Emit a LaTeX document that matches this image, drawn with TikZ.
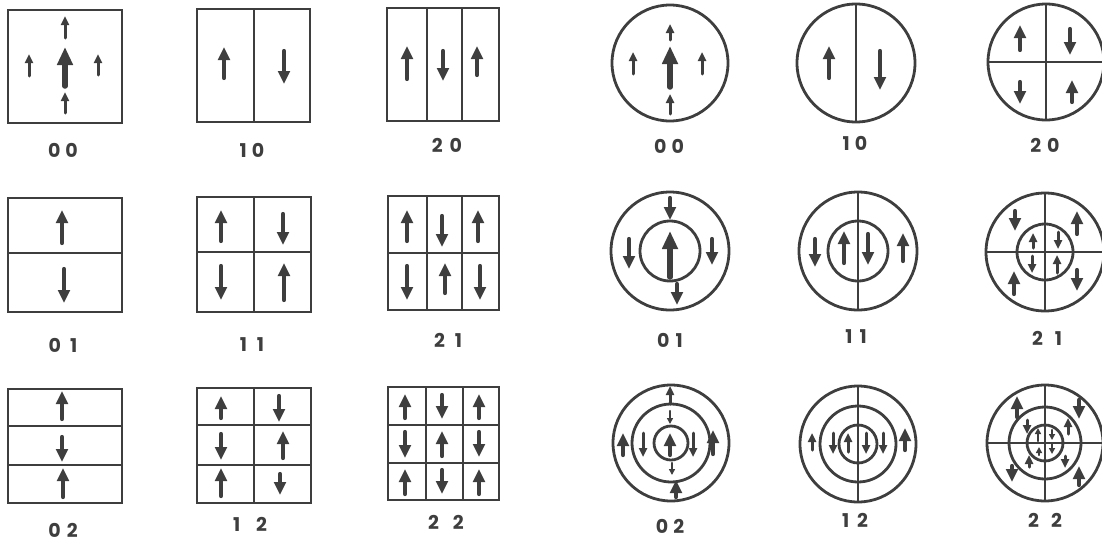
\documentclass[tikz,border=0pt]{standalone}
\usepackage{fontspec}
\setmainfont{Poppins}
\usetikzlibrary{arrows.meta}
\definecolor{ink}{RGB}{62,62,62}
\tikzset{
  frame/.style={draw=ink, line width=2.8pt},
  spin/.style={draw=ink, line width=4.2pt, line cap=round, -{Triangle[length=13pt,width=11.5pt]}},
  spinbig/.style={line width=5.5pt, -{Triangle[length=18pt,width=15pt]}},
  spinsmall/.style={line width=3pt, -{Triangle[length=9pt,width=8pt]}},
  spintiny/.style={line width=2.2pt, -{Triangle[length=6pt,width=6pt]}},
  lab/.style={text=ink, font=\fontsize{19}{19}\selectfont\bfseries, inner sep=0pt}
}
% vertical spin arrow: x, tail y, tip y
\newcommand\spinat[4][]{\draw[spin,#1] (#2,#3) -- (#2,#4);}
\begin{document}
\begin{tikzpicture}[x=1pt,y=-1pt]
\useasboundingbox (0,0) rectangle (1102,544);
\clip (0,0) rectangle (1102,544);

% ---------- rectangular guide, row 1 ----------
\draw[frame] (8,10) rectangle (122,123);
\spinat[spinbig]{65}{86}{47}
\spinat[spinsmall]{65}{38}{16}
\spinat[spinsmall]{65}{113}{92}
\spinat[spinsmall]{29}{76}{54}
\spinat[spinsmall]{98}{75}{54}
\node[lab] (s00) at (63,150) {0\hspace{5pt}0};

\draw[frame] (197,9) rectangle (310,122);
\draw[frame] (254,9) -- (254,122);
\spinat{224}{78}{47}
\spinat{284}{51}{84}
\node[lab] (s10) at (252,150) {1\hspace{5pt}0};

\draw[frame] (387,8) rectangle (499,121);
\draw[frame] (427,8) -- (427,121);
\draw[frame] (462,8) -- (462,121);
\spinat{407}{79}{46}
\spinat{443}{51}{81}
\spinat{477}{75}{46}
\node[lab] (s20) at (447,145) {2\hspace{7pt}0};

% ---------- rectangular guide, row 2 ----------
\draw[frame] (8,198) rectangle (122,312);
\draw[frame] (8,253) -- (122,253);
\spinat{62}{243}{210}
\spinat{64}{269}{303}
\node[lab] (s01) at (63,345) {0\hspace{9pt}1};

\draw[frame] (197,197) rectangle (311,312);
\draw[frame] (254,197) -- (254,312);
\draw[frame] (197,252) -- (311,252);
\spinat{221}{241}{210}
\spinat{283}{214}{245}
\spinat{221}{266}{300}
\spinat{284}{300}{263}
\node[lab] (s11) at (252,345) {1\hspace{10pt}1};

\draw[frame] (388,196) rectangle (499,310);
\draw[frame] (427,196) -- (427,310);
\draw[frame] (462,196) -- (462,310);
\draw[frame] (388,253) -- (499,253);
\spinat{407}{241}{210}
\spinat{442}{216}{247}
\spinat{478}{241}{210}
\spinat{407}{266}{300}
\spinat{445}{293}{263}
\spinat{480}{266}{300}
\node[lab] (s21) at (448,340) {2\hspace{10pt}1};

% ---------- rectangular guide, row 3 ----------
\draw[frame] (8,389) rectangle (122,503);
\draw[frame] (8,426) -- (122,426);
\draw[frame] (8,465) -- (122,465);
\spinat{62}{419}{391}
\spinat{62}{437}{462}
\spinat{63}{497}{468}
\node[lab] (s02) at (63,530) {0\hspace{6pt}2};

\draw[frame] (197,388) rectangle (311,503);
\draw[frame] (254,388) -- (254,503);
\draw[frame] (197,425) -- (311,425);
\draw[frame] (197,465) -- (311,465);
\spinat{221}{418}{396}
\spinat{279}{396}{422}
\spinat{221}{434}{460}
\spinat{283}{458}{431}
\spinat{221}{496}{468}
\spinat{280}{474}{495}
\node[lab] (s12) at (250,524) {1\hspace{16pt}2};

\draw[frame] (388,387) rectangle (499,500);
\draw[frame] (426,387) -- (426,500);
\draw[frame] (463,387) -- (463,500);
\draw[frame] (388,425) -- (499,425);
\draw[frame] (388,463) -- (499,463);
\spinat{405}{418}{394}
\spinat{442}{395}{419}
\spinat{479}{418}{394}
\spinat{405}{432}{458}
\spinat{442}{456}{431}
\spinat{479}{432}{457}
\spinat{405}{494}{469}
\spinat{442}{470}{494}
\spinat{479}{494}{469}
\node[lab] (s22) at (446,522) {2\hspace{14pt}2};

% ---------- circular guide, row 1 ----------
\draw[frame] (670,63) circle[radius=58];
\spinat[spinbig]{670}{87}{46}
\spinat[spinsmall]{670}{40}{24}
\spinat[spinsmall]{670}{114}{94}
\spinat[spinsmall]{633}{74}{52}
\spinat[spinsmall]{702}{74}{52}
\node[lab] (c00) at (669,146) {0\hspace{5pt}0};

\draw[frame] (856,63) circle[radius=59];
\draw[frame] (856,4) -- (856,122);
\spinat{829}{78}{46}
\spinat{880}{51}{90}
\node[lab] (c10) at (855,143) {1\hspace{5pt}0};

\draw[frame] (1046,62) circle[radius=58];
\draw[frame] (1046,4) -- (1046,120);
\draw[frame] (988,62) -- (1104,62);
\spinat{1020}{50}{25}
\spinat{1070}{29}{55}
\spinat{1020}{82}{104}
\spinat{1072}{102}{80}
\node[lab] (c20) at (1045,145) {2\hspace{6pt}0};

% ---------- circular guide, row 2 ----------
\draw[frame] (670,251) circle[radius=59];
\draw[frame] (670,251) circle[radius=30];
\spinat[spinbig]{670}{277}{231}
\spinat{670}{198}{220}
\spinat{677}{284}{305}
\spinat{629}{239}{269}
\spinat{712}{239}{265}
\node[lab] (c01) at (670,340) {0\hspace{6pt}1};

\draw[frame] (858,251) circle[radius=59];
\draw[frame] (858,251) circle[radius=30];
\draw[frame] (858,192) -- (858,310);
\spinat{815}{239}{267}
\spinat{844}{263}{231}
\spinat{868}{234}{265}
\spinat{903}{261}{233}
\node[lab] (c11) at (856,337) {1\hspace{7pt}1};

\draw[frame] (1045,252) circle[radius=59];
\draw[frame] (1045,252) circle[radius=28];
\draw[frame] (1045,193) -- (1045,311);
\draw[frame] (986,252) -- (1104,252);
\spinat{1015}{211}{231}
\spinat{1077}{234}{211}
\spinat{1014}{294}{271}
\spinat{1077}{270}{291}
\spinat[spinsmall]{1033}{248}{233}
\spinat[spinsmall]{1058}{232}{249}
\spinat[spinsmall]{1032}{256}{273}
\spinat[spinsmall]{1057}{273}{255}
\node[lab] (c21) at (1047,338) {2\hspace{12pt}1};

% ---------- circular guide, row 3 ----------
\draw[frame] (671,443) circle[radius=58];
\draw[frame] (671,443) circle[radius=39];
\draw[frame] (671,443) circle[radius=17];
\spinat[spinsmall]{670}{404}{386}
\spinat[spintiny]{670}{411}{424}
\spinat{670}{455}{433}
\spinat[spinsmall]{643}{433}{457}
\spinat[spinsmall]{693}{433}{457}
\spinat{623}{455}{433}
\spinat{713}{454}{430}
\spinat[spintiny]{672}{463}{475}
\spinat{676}{497}{480}
\node[lab] (c02) at (670,526) {0\hspace{5pt}2};

\draw[frame] (858,444) circle[radius=58];
\draw[frame] (858,444) circle[radius=38];
\draw[frame] (858,444) circle[radius=19];
\draw[frame] (858,386) -- (858,502);
\spinat[spinsmall]{812}{450}{433}
\spinat[spinsmall]{833}{433}{454}
\spinat[spinsmall]{848}{452}{433}
\spinat[spinsmall]{866}{433}{454}
\spinat[spinsmall]{883}{433}{454}
\spinat{905}{450}{428}
\node[lab] (c12) at (855,520) {1\hspace{8pt}2};

\draw[frame] (1045,443) circle[radius=58];
\draw[frame] (1045,443) circle[radius=36];
\draw[frame] (1045,443) circle[radius=18];
\draw[frame] (1045,385) -- (1045,501);
\draw[frame] (987,443) -- (1104,443);
\spinat{1017}{417}{396}
\spinat{1079}{400}{419}
\spinat[spinsmall]{1027}{420}{434}
\spinat[spinsmall]{1068}{434}{418}
\spinat[spintiny]{1038}{441}{428}
\spinat[spintiny]{1052}{430}{440}
\spinat[spintiny]{1039}{455}{447}
\spinat[spintiny]{1052}{444}{454}
\spinat[spinsmall]{1029}{467}{455}
\spinat[spinsmall]{1065}{456}{468}
\spinat{1012}{466}{482}
\spinat{1079}{485}{466}
\node[lab] (c22) at (1045,520) {2\hspace{12pt}2};
\end{tikzpicture}
\end{document}
